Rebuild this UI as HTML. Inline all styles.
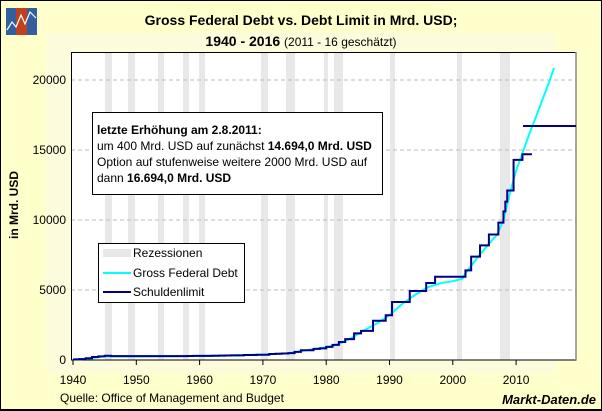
<!DOCTYPE html>
<html><head><meta charset="utf-8"><style>
body{margin:0;background:#FFFFCC;}
svg{display:block;font-family:"Liberation Sans",Arial,sans-serif;}
</style></head><body>
<svg id="s" width="602" height="411" xmlns="http://www.w3.org/2000/svg">
<rect x="0.5" y="0.5" width="601" height="410" fill="#FFFFCC" stroke="#000"/>
<rect x="46" y="33" width="510" height="340" fill="#FCFCDC"/>
<rect x="71" y="52" width="505" height="308" fill="#fff"/>
<g id="rec" fill="#E8E8E8"></g>
<g stroke="#bbb" stroke-dasharray="4,3" stroke-width="1">
<line x1="71" x2="576" y1="80" y2="80"/><line x1="71" x2="576" y1="150" y2="150"/>
<line x1="71" x2="576" y1="220" y2="220"/><line x1="71" x2="576" y1="290" y2="290"/>
</g>
<rect x="71.5" y="52.5" width="504.5" height="307.5" fill="none" stroke="#000"/>
<line x1="576" y1="52" x2="576" y2="360" stroke="#888" stroke-width="1.5"/>
<g id="ticks" stroke="#000"></g>
<g font-size="12" fill="#000" text-anchor="end">
<text x="66" y="364">0</text><text x="66" y="294">5000</text><text x="66" y="224">10000</text>
<text x="66" y="154">15000</text><text x="66" y="84">20000</text>
</g>
<g font-size="12" fill="#000" text-anchor="middle" id="xl"></g>
<text transform="translate(18,205) rotate(-90)" font-size="12" font-weight="bold" text-anchor="middle">in Mrd. USD</text>
<polyline id="debt" fill="none" stroke="#00FFFF" stroke-width="2"/>
<polyline id="lim" fill="none" stroke="#000080" stroke-width="2"/>
<line x1="523" y1="126" x2="576" y2="126" stroke="#000080" stroke-width="2"/>
<rect x="92.5" y="112.5" width="290" height="82" fill="#fff" stroke="#000"/>
<g font-size="12">
<text x="97" y="134" font-weight="bold">letzte Erhöhung am 2.8.2011:</text>
<text x="97" y="150">um 400 Mrd. USD auf zunächst <tspan font-weight="bold">14.694,0 Mrd. USD</tspan></text>
<text x="97" y="166">Option auf stufenweise weitere 2000 Mrd. USD auf</text>
<text x="97" y="182">dann <tspan font-weight="bold">16.694,0 Mrd. USD</tspan></text>
</g>
<rect x="98.5" y="243.5" width="146" height="59" fill="#fff" stroke="#000"/>
<rect x="103" y="249" width="28" height="8" fill="#E8E8E8"/>
<line x1="103" x2="131" y1="273" y2="273" stroke="#00FFFF" stroke-width="2"/>
<line x1="103" x2="131" y1="292" y2="292" stroke="#000080" stroke-width="2"/>
<g font-size="12"><text x="133" y="257">Rezessionen</text><text x="133" y="277">Gross Federal Debt</text><text x="133" y="296">Schuldenlimit</text></g>
<text x="301" y="25" font-size="14" font-weight="bold" text-anchor="middle">Gross Federal Debt vs. Debt Limit in Mrd. USD;</text>
<text x="301" y="46" font-size="14" text-anchor="middle"><tspan font-weight="bold">1940 - 2016</tspan> <tspan font-size="12">(2011 - 16 geschätzt)</tspan></text>
<text x="60" y="402" font-size="12">Quelle: Office of Management and Budget</text>
<text x="596" y="404" font-size="13" font-weight="bold" font-style="italic" text-anchor="end">Markt-Daten.de</text>
<rect x="6" y="8" width="31" height="27" fill="#3060A0"/>
<rect x="16" y="8" width="11" height="27" fill="#C04020"/>
<polyline points="7,30 12,22 16,27 21,15 25,24 30,12 36,18" fill="none" stroke="#fff" stroke-width="1.2"/>
<line x1="0" y1="410" x2="602" y2="410" stroke="#000" stroke-width="2"/>
</svg>
<script>
var X=function(y){return 73+(y-1940)*6.33},Y=function(v){return 360-v*0.014};
var ns="http://www.w3.org/2000/svg";
var rec=[[105,112],[128,135],[158,164],[183,189],[199,205],[261,268],[286,295],[324,328],[334,343],[390,395],[457,462],[500,510]];
var g=document.getElementById("rec");
rec.forEach(function(r){var e=document.createElementNS(ns,"rect");e.setAttribute("x",r[0]);e.setAttribute("y",52);e.setAttribute("width",r[1]-r[0]);e.setAttribute("height",308);g.appendChild(e);});
var t=document.getElementById("ticks"),xl=document.getElementById("xl");
for(var yr=1940;yr<=2010;yr+=10){var x=X(yr);var l=document.createElementNS(ns,"line");l.setAttribute("x1",x);l.setAttribute("x2",x);l.setAttribute("y1",360);l.setAttribute("y2",365);t.appendChild(l);
var tx=document.createElementNS(ns,"text");tx.setAttribute("x",x);tx.setAttribute("y",384);tx.textContent=yr;xl.appendChild(tx);}
var d=[[1940,51],[1941,58],[1942,79],[1943,143],[1944,204],[1945,260],[1946,271],[1947,257],[1950,257],[1954,271],[1958,280],[1960,291],[1964,317],[1968,368],[1970,381],[1972,436],[1974,484],[1976,629],[1978,776],[1980,909],[1982,1137],[1984,1572],[1986,2125],[1988,2602],[1990,3206],[1992,4002],[1994,4643],[1996,5181],[1998,5478],[2000,5629],[2001.5,5800],[2002,6198],[2004,7379],[2006,8451],[2007,8951],[2008,9986],[2009,11876],[2010,13529],[2011,14764],[2012,16051],[2013,17200],[2014,18400],[2015,19600],[2016,20860]];
document.getElementById("debt").setAttribute("points",d.map(function(p){return X(p[0])+","+Y(p[1])}).join(" "));
var s=[[1940,40],[1940.5,49],[1941,65],[1942,125],[1943,210],[1944,260],[1945,300],[1946,275],[1954,281],[1956,278],[1958,288],[1959,295],[1962,300],[1963,309],[1964,324],[1965,328],[1967,358],[1969,377],[1971,430],[1972,450],[1973,465],[1974,495],[1975,577],[1976,700],[1978,798],[1979,830],[1980,935],[1981,1079],[1982,1290],[1983,1490],[1984.4,1900],[1985.5,2078],[1987.4,2800],[1989.4,3200],[1990.4,4140],[1993.2,4930],[1995.8,5500],[1997.2,5950],[2002,6400],[2002.9,7384],[2004.3,8184],[2005.7,8965],[2007.2,9815],[2008,10615],[2008.3,11315],[2008.6,12104],[2009.6,14294],[2011,14694]];
var pts=[];for(var i=0;i<s.length;i++){var nx=i+1<s.length?s[i+1][0]:2012.5;pts.push(X(s[i][0])+","+Y(s[i][1]));pts.push(X(nx)+","+Y(s[i][1]));}
document.getElementById("lim").setAttribute("points",pts.join(" "));
</script>
</body></html>
